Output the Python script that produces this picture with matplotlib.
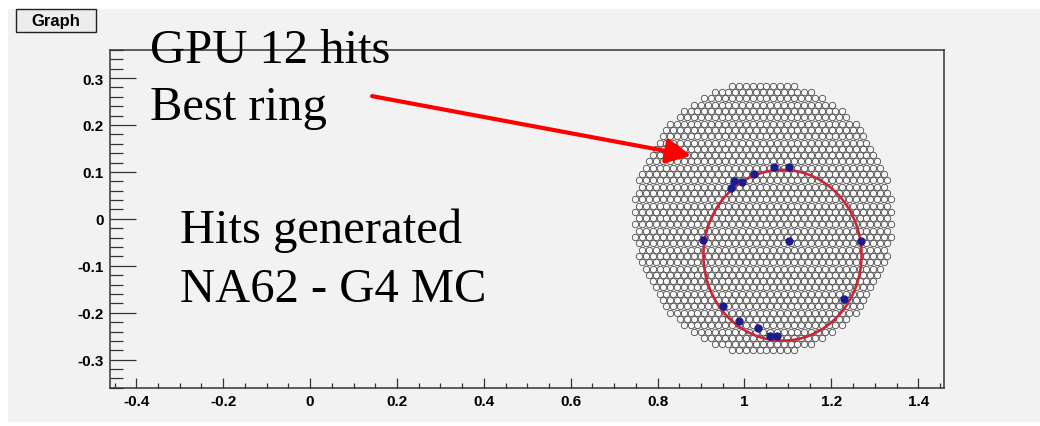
import matplotlib
matplotlib.use("Agg")
import matplotlib.pyplot as plt
from matplotlib.patches import Circle, Rectangle
from matplotlib.ticker import FixedLocator, MultipleLocator

plt.rcParams['axes.unicode_minus'] = False

# detector cells per row, top row first (counted off the picture)
row_counts = [10, 15, 18, 21, 24, 25, 28, 29, 30, 31, 32, 33, 34, 35, 36, 37, 36, 37, 38, 37, 38, 37,
              38, 37, 38, 37, 36, 37, 36, 35, 34, 33, 32, 31, 30, 29, 28, 25, 24, 21, 18, 15, 10]
grid_cx, grid_cy = 1.0426, 0.0015
pitch, row_step = 0.01588, 0.01342

# hits
hit_x = [1.068, 1.102, 1.022, 0.977, 0.994, 0.968, 0.904, 1.268, 1.228, 0.950, 0.987, 1.031, 1.059, 1.076]
hit_y = [0.111, 0.111, 0.096, 0.081, 0.079, 0.066, -0.046, -0.048, -0.171, -0.186, -0.217, -0.232, -0.249, -0.249]
centre_x, centre_y = [1.102], [-0.048]

# best ring fit
ring_x, ring_y, ring_r = 1.0875, -0.0775, 0.182

xtick_vals = [-0.4, -0.2, 0, 0.2, 0.4, 0.6, 0.8, 1, 1.2, 1.4]
xtick_labels = ["-0.4", "-0.2", "0", "0.2", "0.4", "0.6", "0.8", "1", "1.2", "1.4"]
ytick_vals = [-0.3, -0.2, -0.1, 0, 0.1, 0.2, 0.3]
ytick_labels = ["-0.3", "-0.2", "-0.1", "0", "0.1", "0.2", "0.3"]

W, H = 1040, 427
bg = '#f2f2f2'
fig = plt.figure(figsize=(W / 100, H / 100), dpi=100, facecolor='white')
fig.patches.append(Rectangle((8 / W, 4 / H), 1 - 8 / W, 413 / H, transform=fig.transFigure,
                             facecolor=bg, edgecolor='none', zorder=-5))

ax = fig.add_axes([110 / W, 38 / H, 834.3 / W, 338.3 / H])
ax.set_facecolor(bg)

# detector cells
gx, gy = [], []
mid = len(row_counts) // 2
for r, n in enumerate(row_counts):
    yy = grid_cy + (mid - r) * row_step
    for i in range(n):
        gx.append(grid_cx + (i - (n - 1) / 2) * pitch)
        gy.append(yy)
ax.plot(gx, gy, 'o', ms=4.6, mfc='#f9f9f9', mec='#4a4a4a', mew=0.6, ls='none', zorder=2)

ax.add_patch(Circle((ring_x, ring_y), ring_r, fill=False, ec='#c8283a', lw=1.9, zorder=3))
ax.plot(hit_x, hit_y, 'o', ms=5, color='#1c1c8c', ls='none', zorder=4)
ax.plot(centre_x, centre_y, 'o', ms=5, color='#1c1c8c', ls='none', zorder=4)

ax.set_xlim(-0.4606, 1.460)
ax.set_ylim(-0.3603, 0.3604)

ax.xaxis.set_major_locator(FixedLocator(xtick_vals))
ax.set_xticklabels(xtick_labels)
ax.xaxis.set_minor_locator(MultipleLocator(0.05))
ax.yaxis.set_major_locator(FixedLocator(ytick_vals))
ax.set_yticklabels(ytick_labels)
ax.yaxis.set_minor_locator(MultipleLocator(0.02))

for lab in ax.get_xticklabels() + ax.get_yticklabels():
    lab.set_fontfamily('Liberation Sans')
    lab.set_fontweight('bold')
    lab.set_fontsize(11)

ax.tick_params(axis='x', which='major', direction='in', length=7.2, width=0.9, color='#333333', pad=4.5)
ax.tick_params(axis='x', which='minor', direction='in', length=3.8, width=0.9, color='#333333')
ax.tick_params(axis='y', which='major', direction='in', length=19, width=0.9, color='#333333', pad=4.5)
ax.tick_params(axis='y', which='minor', direction='in', length=9.5, width=0.9, color='#333333')
for s in ax.spines.values():
    s.set_color('#333333')
    s.set_linewidth(1.1)

# red arrow
ax.annotate('', xy=(0.8775, 0.1346), xytext=(0.1427, 0.2615),
            arrowprops=dict(arrowstyle='-|>,head_length=1.5,head_width=0.75', color='red', lw=3,
                            shrinkA=0, shrinkB=0), zorder=5)

# large captions
serif = ['Liberation Serif', 'DejaVu Serif']
fig.text(150 / W, 1 - 63 / H, "GPU 12 hits", family=serif, fontsize=35, va='baseline', color='black')
fig.text(150 / W, 1 - 120 / H, "Best ring", family=serif, fontsize=35, va='baseline', color='black')
fig.text(180 / W, 1 - 243.5 / H, "Hits generated", family=serif, fontsize=35, va='baseline', color='black')
fig.text(180 / W, 1 - 301.7 / H, "NA62 - G4 MC", family=serif, fontsize=35, va='baseline', color='black')

# ROOT "Graph" title box
fig.patches.append(Rectangle((16 / W, 1 - 33 / H), 80 / W, 23 / H, transform=fig.transFigure,
                             facecolor='#ececec', edgecolor='#222222', lw=1.0, zorder=1))
fig.text(56 / W, 1 - 21.5 / H, "Graph", family='Liberation Sans', fontweight='bold', fontsize=12,
         ha='center', va='center')

fig.savefig('out.png', dpi=100, facecolor=fig.get_facecolor())
